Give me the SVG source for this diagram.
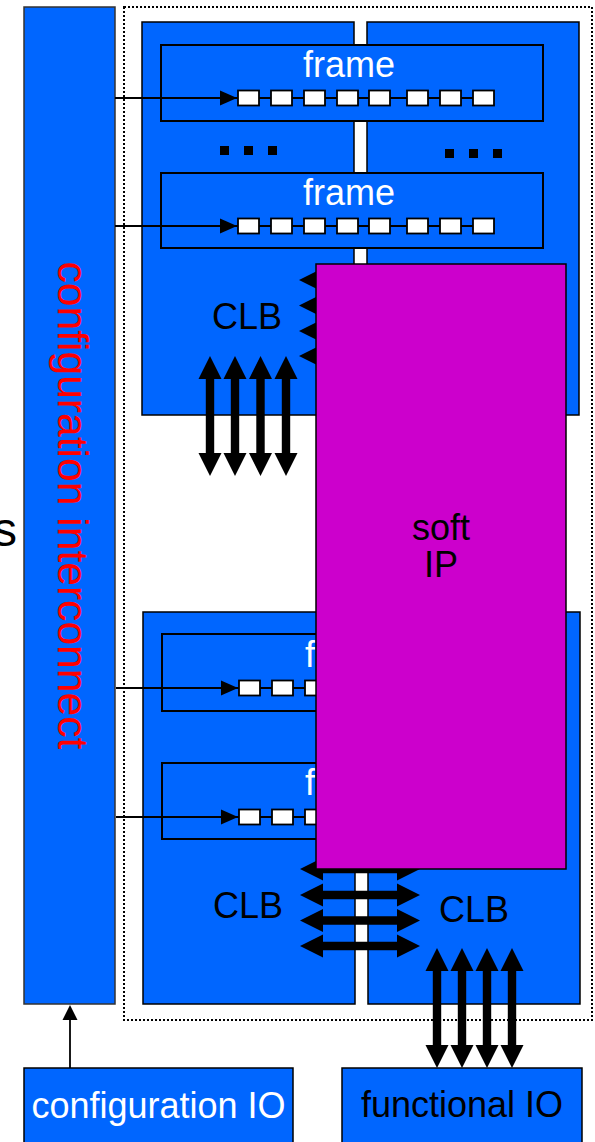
<svg xmlns="http://www.w3.org/2000/svg" xmlns:xlink="http://www.w3.org/1999/xlink" width="595" height="1142" viewBox="0 0 595 1142">
<style>
.blue{fill:#0066FF;stroke:#000;stroke-width:1.5}
.frame{fill:#0066FF;stroke:#000;stroke-width:2}
.sq{fill:#fff;stroke:#000;stroke-width:1.8}
.wire{stroke:#000;stroke-width:1.8;fill:none}
.lbl{font-family:"Liberation Sans",Arial,sans-serif;font-size:36px}
.white{fill:#fff}
.dot{fill:#000}
</style>
<defs>
<path id="dbl" d="M0,0 L23,-11.5 L23,-4.2 L97,-4.2 L97,-11.5 L120,0 L97,11.5 L97,4.2 L23,4.2 L23,11.5 Z" fill="#000"/>
<polygon id="head" points="0,-7.5 17,0 0,7.5" fill="#000"/>
<g id="row">
<line class="wire" x1="115" y1="0" x2="490" y2="0"/>
<use xlink:href="#head" x="220" y="0"/>
<rect class="sq" x="238" y="-7.5" width="21" height="15"/>
<rect class="sq" x="271" y="-7.5" width="21" height="15"/>
<rect class="sq" x="304" y="-7.5" width="21" height="15"/>
<rect class="sq" x="337" y="-7.5" width="21" height="15"/>
<rect class="sq" x="369" y="-7.5" width="21" height="15"/>
<rect class="sq" x="407" y="-7.5" width="21" height="15"/>
<rect class="sq" x="440" y="-7.5" width="21" height="15"/>
<rect class="sq" x="473" y="-7.5" width="21" height="15"/>
</g>
</defs>

<text class="lbl" x="17" y="546" text-anchor="end" style="font-size:48px" fill="#000">s</text>

<rect id="boundary" x="124" y="7" width="468" height="1013" fill="none" stroke="#000" stroke-width="2" stroke-dasharray="2 2"/>

<g id="config-interconnect">
<rect x="24" y="7" width="91" height="997" fill="#0066FF" stroke="#333" stroke-width="1.5"/>
<text class="lbl" transform="translate(58,261.5) rotate(90)" style="font-size:42.6px" fill="#FF0000">configuration interconnect</text>
</g>

<g id="clb-top-left"><rect class="blue" x="142" y="22" width="212" height="393"/></g>
<g id="clb-top-right"><rect class="blue" x="367" y="22" width="212" height="393"/></g>
<g id="clb-bottom-left"><rect class="blue" x="143" y="612" width="212" height="392"/></g>
<g id="clb-bottom-right"><rect class="blue" x="368" y="612" width="212" height="392"/></g>

<g id="frame-top-1">
<rect class="frame" x="161" y="45" width="382" height="76"/>
<text class="lbl white" x="303" y="77">frame</text>
</g>
<g id="frame-top-2">
<rect class="frame" x="161" y="173" width="382" height="75"/>
<text class="lbl white" x="303" y="205">frame</text>
</g>
<g id="frame-bottom-1">
<rect class="frame" x="162" y="634" width="382" height="77"/>
<text class="lbl white" x="305" y="667">frame</text>
</g>
<g id="frame-bottom-2">
<rect class="frame" x="162" y="763" width="382" height="76"/>
<text class="lbl white" x="305" y="795">frame</text>
</g>

<g id="dots">
<rect class="dot" x="220" y="146" width="9" height="9"/>
<rect class="dot" x="244" y="146" width="9" height="9"/>
<rect class="dot" x="268" y="146" width="9" height="9"/>
<rect class="dot" x="445" y="149" width="9" height="9"/>
<rect class="dot" x="469" y="149" width="9" height="9"/>
<rect class="dot" x="493" y="149" width="9" height="9"/>
</g>

<g id="connectors">
<use xlink:href="#row" x="0" y="98"/>
<use xlink:href="#row" x="0" y="226"/>
<use xlink:href="#row" x="1" y="688"/>
<use xlink:href="#row" x="1" y="817"/>

<use xlink:href="#dbl" transform="translate(210,356) rotate(90)"/>
<use xlink:href="#dbl" transform="translate(235,356) rotate(90)"/>
<use xlink:href="#dbl" transform="translate(260.5,356) rotate(90)"/>
<use xlink:href="#dbl" transform="translate(286,356) rotate(90)"/>

<use xlink:href="#dbl" x="299" y="280"/>
<use xlink:href="#dbl" x="299" y="305.5"/>
<use xlink:href="#dbl" x="299" y="331"/>
<use xlink:href="#dbl" x="299" y="356"/>

<use xlink:href="#dbl" x="300" y="869"/>
<use xlink:href="#dbl" x="300" y="895"/>
<use xlink:href="#dbl" x="300" y="920.5"/>
<use xlink:href="#dbl" x="300" y="946"/>

<use xlink:href="#dbl" transform="translate(437,948) rotate(90)"/>
<use xlink:href="#dbl" transform="translate(462,948) rotate(90)"/>
<use xlink:href="#dbl" transform="translate(487,948) rotate(90)"/>
<use xlink:href="#dbl" transform="translate(512,948) rotate(90)"/>

<line class="wire" x1="70" y1="1068" x2="70" y2="1018"/>
<polygon points="70,1005 62.5,1020 77.5,1020" fill="#000"/>
</g>

<g id="clb-labels">
<text class="lbl" x="212" y="329" fill="#000">CLB</text>
<text class="lbl" x="213" y="918" fill="#000">CLB</text>
<text class="lbl" x="439" y="922" fill="#000">CLB</text>
</g>

<g id="soft-ip">
<rect x="316" y="264" width="250" height="605" fill="#CC00CC" stroke="#000" stroke-width="1.5"/>
<text class="lbl" x="441" y="540" text-anchor="middle" fill="#000">soft</text>
<text class="lbl" x="441" y="577" text-anchor="middle" fill="#000">IP</text>
</g>

<g id="configuration-io">
<rect x="24" y="1068" width="269" height="80" fill="#0066FF" stroke="#000" stroke-width="1.5"/>
<text class="lbl white" x="158.5" y="1118" text-anchor="middle">configuration IO</text>
</g>
<g id="functional-io">
<rect x="342" y="1068" width="240" height="80" fill="#0066FF" stroke="#000" stroke-width="1.5"/>
<text class="lbl" x="462" y="1117" text-anchor="middle" fill="#000">functional IO</text>
</g>
</svg>
